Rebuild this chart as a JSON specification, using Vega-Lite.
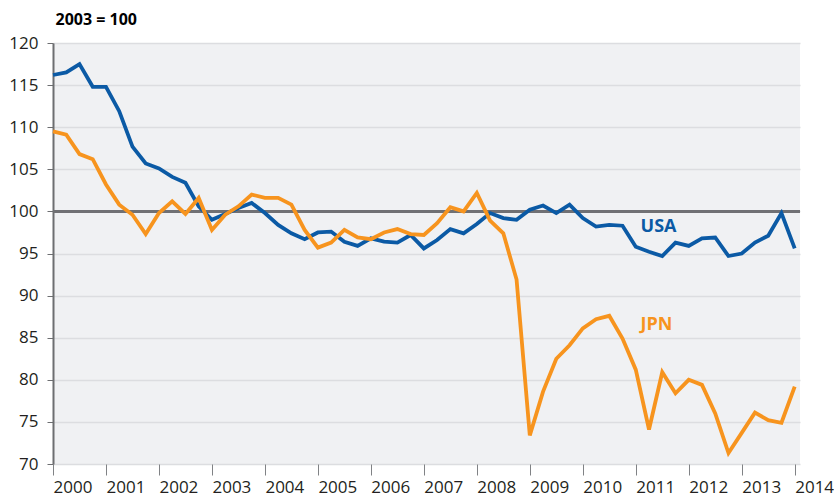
{
  "$schema": "https://vega.github.io/schema/vega-lite/v6.json",
  "width": 747,
  "height": 421,
  "autosize": {"type": "none"},
  "padding": {"left": 53, "top": 43, "right": 34, "bottom": 33},
  "background": "white",
  "config": {"view": {"fill": "#f0f1f3", "stroke": null}, "font": "Open Sans"},
  "datasets": {
    "series": [
      {"t": 2000.00, "USA": 116.2, "JPN": 109.5},
      {"t": 2000.25, "USA": 116.5, "JPN": 109.1},
      {"t": 2000.50, "USA": 117.5, "JPN": 106.8},
      {"t": 2000.75, "USA": 114.8, "JPN": 106.2},
      {"t": 2001.00, "USA": 114.8, "JPN": 103.2},
      {"t": 2001.25, "USA": 111.9, "JPN": 100.8},
      {"t": 2001.50, "USA": 107.7, "JPN": 99.6},
      {"t": 2001.75, "USA": 105.7, "JPN": 97.3},
      {"t": 2002.00, "USA": 105.1, "JPN": 99.8},
      {"t": 2002.25, "USA": 104.1, "JPN": 101.2},
      {"t": 2002.50, "USA": 103.4, "JPN": 99.7},
      {"t": 2002.75, "USA": 100.6, "JPN": 101.6},
      {"t": 2003.00, "USA": 99.0, "JPN": 97.8},
      {"t": 2003.25, "USA": 99.7, "JPN": 99.6},
      {"t": 2003.50, "USA": 100.4, "JPN": 100.6},
      {"t": 2003.75, "USA": 101.0, "JPN": 102.0},
      {"t": 2004.00, "USA": 99.8, "JPN": 101.6},
      {"t": 2004.25, "USA": 98.4, "JPN": 101.6},
      {"t": 2004.50, "USA": 97.4, "JPN": 100.8},
      {"t": 2004.75, "USA": 96.7, "JPN": 97.8},
      {"t": 2005.00, "USA": 97.5, "JPN": 95.7},
      {"t": 2005.25, "USA": 97.6, "JPN": 96.3},
      {"t": 2005.50, "USA": 96.4, "JPN": 97.8},
      {"t": 2005.75, "USA": 95.9, "JPN": 96.9},
      {"t": 2006.00, "USA": 96.8, "JPN": 96.7},
      {"t": 2006.25, "USA": 96.4, "JPN": 97.5},
      {"t": 2006.50, "USA": 96.3, "JPN": 97.9},
      {"t": 2006.75, "USA": 97.2, "JPN": 97.3},
      {"t": 2007.00, "USA": 95.6, "JPN": 97.2},
      {"t": 2007.25, "USA": 96.6, "JPN": 98.6},
      {"t": 2007.50, "USA": 97.9, "JPN": 100.5},
      {"t": 2007.75, "USA": 97.4, "JPN": 100.0},
      {"t": 2008.00, "USA": 98.5, "JPN": 102.2},
      {"t": 2008.25, "USA": 99.8, "JPN": 98.9},
      {"t": 2008.50, "USA": 99.2, "JPN": 97.4},
      {"t": 2008.75, "USA": 99.0, "JPN": 91.9},
      {"t": 2009.00, "USA": 100.2, "JPN": 73.4},
      {"t": 2009.25, "USA": 100.7, "JPN": 78.6},
      {"t": 2009.50, "USA": 99.8, "JPN": 82.5},
      {"t": 2009.75, "USA": 100.8, "JPN": 84.1},
      {"t": 2010.00, "USA": 99.2, "JPN": 86.1},
      {"t": 2010.25, "USA": 98.2, "JPN": 87.2},
      {"t": 2010.50, "USA": 98.4, "JPN": 87.6},
      {"t": 2010.75, "USA": 98.3, "JPN": 84.9},
      {"t": 2011.00, "USA": 95.8, "JPN": 81.2},
      {"t": 2011.25, "USA": 95.2, "JPN": 74.1},
      {"t": 2011.50, "USA": 94.7, "JPN": 80.9},
      {"t": 2011.75, "USA": 96.3, "JPN": 78.4},
      {"t": 2012.00, "USA": 95.9, "JPN": 80.0},
      {"t": 2012.25, "USA": 96.8, "JPN": 79.4},
      {"t": 2012.50, "USA": 96.9, "JPN": 76.0},
      {"t": 2012.75, "USA": 94.7, "JPN": 71.3},
      {"t": 2013.00, "USA": 95.0, "JPN": 73.7},
      {"t": 2013.25, "USA": 96.3, "JPN": 76.1},
      {"t": 2013.50, "USA": 97.1, "JPN": 75.2},
      {"t": 2013.75, "USA": 99.8, "JPN": 74.9},
      {"t": 2014.00, "USA": 95.6, "JPN": 79.2}
    ],
    "labels": [
      {"t": 2011.09, "v": 97.6, "country": "USA"},
      {"t": 2011.09, "v": 85.9, "country": "JPN"}
    ]
  },
  "layer": [
    {
      "data": {"name": "series"},
      "mark": {"type": "rule", "color": "#707174", "strokeWidth": 1.8},
      "encoding": {
        "y": {"datum": 100, "type": "quantitative", "scale": {"domain": [70, 120], "nice": false, "zero": false}}
      }
    },
    {
      "data": {"name": "series"},
      "transform": [{"fold": ["USA", "JPN"], "as": ["country", "v"]}],
      "mark": {"type": "line", "strokeWidth": 3.8, "strokeJoin": "miter", "strokeMiterLimit": 3},
      "encoding": {
        "x": {
          "field": "t", "type": "quantitative",
          "scale": {"domain": [2000, 2014.1], "nice": false, "zero": false},
          "axis": {
            "title": null, "values": [2000, 2001, 2002, 2003, 2004, 2005, 2006, 2007, 2008, 2009, 2010, 2011, 2012, 2013, 2014],
            "format": "d", "grid": false, "domain": false,
            "tickColor": "#808285", "tickSize": 11, "tickWidth": 1,
            "labelAlign": "left", "labelDx": -3, "labelPadding": 4,
            "labelFontSize": 17, "labelColor": "#231f20", "labelFlush": false, "labelOverlap": false
          }
        },
        "y": {
          "field": "v", "type": "quantitative",
          "scale": {"domain": [70, 120], "nice": false, "zero": false},
          "axis": {
            "title": "2003 = 100", "titleAngle": 0, "titleX": 2, "titleY": -19,
            "titleAlign": "left", "titleBaseline": "alphabetic",
            "titleFontSize": 16, "titleFontWeight": "bold", "titleColor": "#000000",
            "values": [70, 75, 80, 85, 90, 95, 100, 105, 110, 115, 120],
            "grid": true, "gridColor": "#dcdde0", "gridWidth": 1.5,
            "domainColor": "#6d6e71", "domainWidth": 2,
            "tickColor": "#6d6e71", "tickSize": 6, "tickWidth": 1,
            "labelPadding": 9, "labelFontSize": 17, "labelColor": "#231f20"
          }
        },
        "color": {
          "field": "country", "type": "nominal",
          "scale": {"domain": ["USA", "JPN"], "range": ["#0b5aa5", "#f7941e"]},
          "legend": null
        }
      }
    },
    {
      "data": {"name": "labels"},
      "mark": {"type": "text", "align": "left", "baseline": "alphabetic", "fontSize": 18, "fontWeight": "bold"},
      "encoding": {
        "x": {"field": "t", "type": "quantitative"},
        "y": {"field": "v", "type": "quantitative"},
        "text": {"field": "country"},
        "color": {"field": "country", "type": "nominal", "legend": null}
      }
    }
  ]
}
